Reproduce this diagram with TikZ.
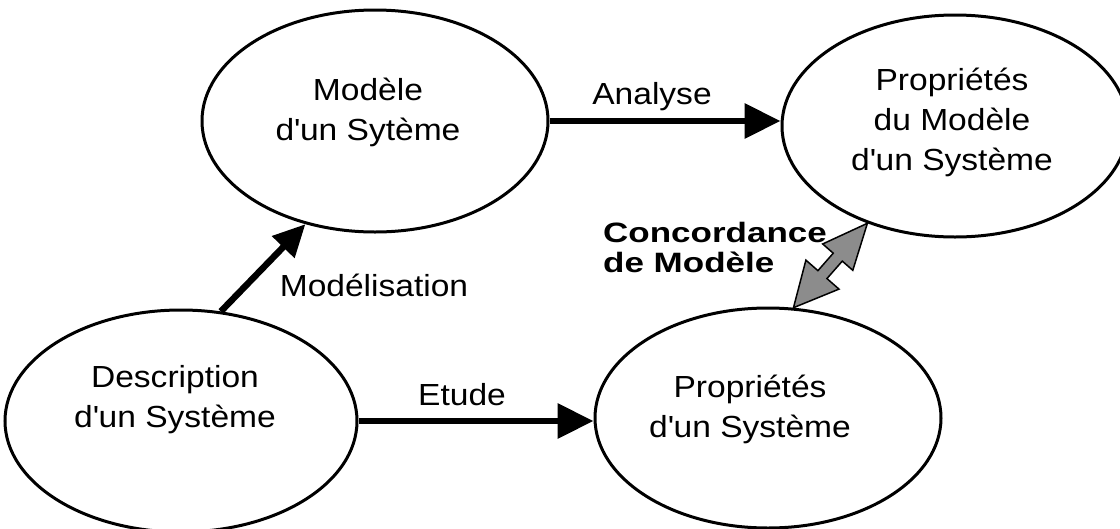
\documentclass[tikz,border=0pt]{standalone}
\usepackage{fontspec}
\setmainfont{Liberation Sans}[FakeStretch=1.1]
\newfontfamily\concfont{Liberation Sans}[FakeStretch=1.25,BoldFont={Liberation Sans Bold}]
\usetikzlibrary{arrows.meta,shapes.geometric,calc}
\begin{document}
\begin{tikzpicture}[x=1pt,y=-1pt,
  bubble/.style={draw=black,line width=3pt,ellipse,inner sep=0pt},
  txt/.style={inner sep=0pt,align=center,font=\fontsize{30.5}{40}\selectfont},
  bigarrow/.style={line width=6.5pt,-{Triangle[length=36pt,width=34pt]}},
]
\useasboundingbox[fill=white] (0,0) rectangle (1120,528);
% ellipses
\node[bubble,minimum width=346pt,minimum height=222pt] (mod) at (375,121) {};
\node[bubble,minimum width=346pt,minimum height=222pt] (pmod) at (955,126) {};
\node[bubble,minimum width=352pt,minimum height=222pt] (desc) at (181,421) {};
\node[bubble,minimum width=346pt,minimum height=220pt] (psys) at (768,418) {};
% texts
\node[txt] (tmod) at (368,112) {Modèle\\d\textquotesingle un Sytème};
\node[txt] (tpmod) at (952,122) {Propriétés\\du Modèle\\d\textquotesingle un Système};
\node[txt] (tdesc) at (175,400) {Description\\d\textquotesingle un Système};
\node[txt] (tpsys) at (750,409) {Propriétés\\d\textquotesingle un Système};
\node[txt] (tana) at (652,97) {Analyse};
\node[txt] (tetu) at (462,395) {Etude};
\node[txt] (tmodl) at (374,285) {Modélisation};
\node[inner sep=0pt,anchor=west,align=left,font=\concfont\bfseries\fontsize{28}{30}\selectfont] (tconc) at (603,247) {Concordance\\de Modèle};
% arrows
\draw[bigarrow] (mod.east) -- (mod.east -| pmod.west);
\draw[bigarrow] (desc.east) -- (desc.east -| psys.west);
\draw[bigarrow,-{Triangle[length=32pt,width=30pt]}] (desc.70) -- (mod.236.7);
% concordance double arrow
\coordinate (ca) at (psys.77.6);
\coordinate (cb) at (pmod.228.5);
\draw[line width=1.5pt,fill=black!45,line join=miter]
  (ca)
  -- ($(ca)!44pt!(cb)!22pt!90:(cb)$)
  -- ($(ca)!44pt!(cb)!6pt!90:(cb)$)
  -- ($(cb)!45pt!(ca)!6pt!-90:(ca)$)
  -- ($(cb)!45pt!(ca)!20pt!-90:(ca)$)
  -- (cb)
  -- ($(cb)!45pt!(ca)!20pt!90:(ca)$)
  -- ($(cb)!45pt!(ca)!6pt!90:(ca)$)
  -- ($(ca)!44pt!(cb)!6pt!-90:(cb)$)
  -- ($(ca)!44pt!(cb)!22pt!-90:(cb)$)
  -- cycle;
\end{tikzpicture}
\end{document}
